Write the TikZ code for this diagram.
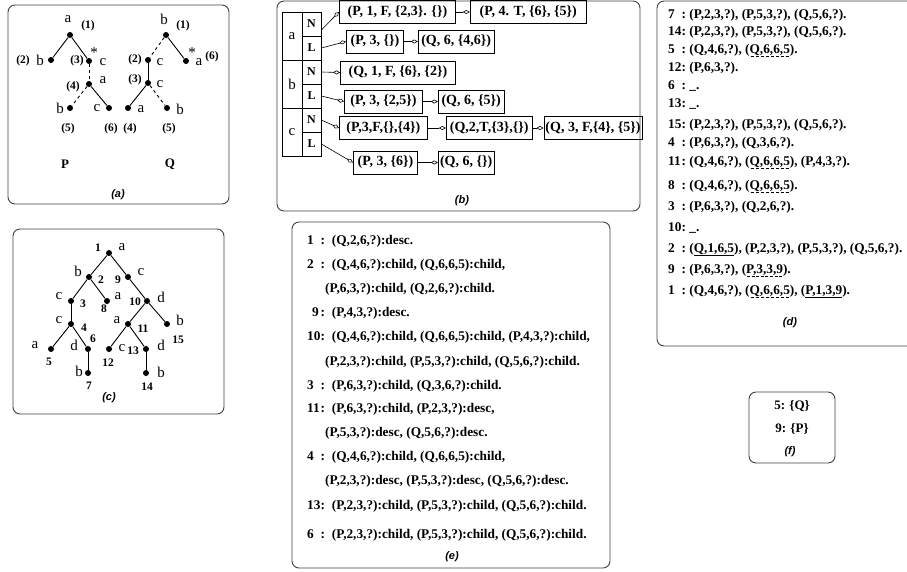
\documentclass[tikz,border=0pt]{standalone}
\usepackage{fontspec}
\setmainfont{Liberation Serif}
\setsansfont{Liberation Sans}
\usetikzlibrary{arrows.meta,positioning}

% number columns of the result lists: (d) narrow, (e) wide
\newcommand{\dn}[1]{\makebox[1em][l]{#1}:\hspace{3.5pt}}
\newcommand{\en}[1]{\makebox[1em][l]{#1}:\hspace{7pt}}
% solid and dashed underlines
\newcommand{\sul}[1]{{\setbox0\hbox{#1}\rlap{\smash{\raisebox{-3.5pt}{\rule{\wd0}{0.7pt}}}}\box0}}
\newcommand{\dul}[1]{{\setbox0\hbox{#1}\rlap{\smash{\raisebox{-3.5pt}{\hbox to\wd0{\xleaders\hbox to 4.6pt{\hss\vrule width 3pt height 0.7pt\hss}\hfill}}}}\box0}}

\begin{document}
\begin{tikzpicture}[
  x=1pt, y=-1pt,
  every node/.style={inner sep=1pt},
  panel/.style={draw=black!75, line width=0.9pt, rounded corners=7pt},
  dot/.style={circle, fill=black, inner sep=0pt, minimum size=6pt},
  link/.style={line width=0.9pt},
  hidden/.style={line width=0.9pt, dash pattern=on 3pt off 3pt},
  lbl/.style={font=\fontsize{15}{17}\selectfont},
  num/.style={font=\bfseries\fontsize{11.5}{13}\selectfont},
  row/.style={font=\bfseries\fontsize{13.3}{15}\selectfont, anchor=west, inner sep=0pt},
  subcap/.style={font=\sffamily\itshape\bfseries\fontsize{11}{13}\selectfont},
  key/.style={draw, line width=0.7pt, inner sep=0pt, minimum width=20pt, minimum height=48pt, font=\fontsize{15}{17}\selectfont},
  cell/.style={draw, line width=0.7pt, inner sep=0pt, minimum width=19pt, minimum height=24pt, font=\bfseries\fontsize{12}{14}\selectfont},
  rec/.style={draw, line width=0.8pt, inner sep=1pt, minimum height=23pt, font=\bfseries\fontsize{14}{16}\selectfont},
  ptr/.style={-{Diamond[open, length=7pt, width=4pt]}, line width=0.6pt}
]
\useasboundingbox (0,0) rectangle (907,571);
\clip (0,0) rectangle (907,571);

% ---------- (a) the two trees ----------
\draw[panel] (8,5) rectangle (229,204);
% tree P
\node[dot] (p1) at (70,35) {};
\node[dot] (p2) at (51,60) {};
\node[dot] (p3) at (89,61) {};
\node[dot] (p4) at (89,84) {};
\node[dot] (p5) at (70,108) {};
\node[dot] (p6) at (109,108) {};
\node[lbl] (pl1) at (68,19) {a};
\node[num] (pn1) at (88,26) {(1)};
\node[lbl] (pl2) at (40,60) {b};
\node[num] (pn2) at (23,61) {(2)};
\node[num] (pn3) at (77,61) {(3)};
\node[lbl] (ps3) at (94,53) {*};
\node[lbl] (pl3) at (103,62) {c};
\node[num] (pn4) at (73,87) {(4)};
\node[lbl] (pl4) at (103,80) {a};
\node[lbl] (pl5) at (60,108) {b};
\node[num] (pn5) at (68,129) {(5)};
\node[lbl] (pl6) at (97,108) {c};
\node[num] (pn6) at (111,129) {(6)};
\node[font=\bfseries\fontsize{13}{15}\selectfont] (pname) at (65,164) {P};
% tree Q
\node[dot] (q1) at (166,35) {};
\node[dot] (q2) at (148,60) {};
\node[dot] (q6) at (186,61) {};
\node[dot] (q3) at (148,83) {};
\node[dot] (q4) at (128,108) {};
\node[dot] (q5) at (167,108) {};
\node[lbl] (ql1) at (164,19) {b};
\node[num] (qn1) at (183,26) {(1)};
\node[num] (qn2) at (135,60) {(2)};
\node[lbl] (ql2) at (160,62) {c};
\node[lbl] (qs6) at (192,53) {*};
\node[lbl] (ql6) at (199,62) {a};
\node[num] (qn6) at (212,57) {(6)};
\node[num] (qn3) at (135,80) {(3)};
\node[lbl] (ql3) at (160,84) {c};
\node[lbl] (ql4) at (141,109) {a};
\node[num] (qn4) at (130,129) {(4)};
\node[lbl] (ql5) at (180,109) {b};
\node[num] (qn5) at (169,129) {(5)};
\node[font=\bfseries\fontsize{13}{15}\selectfont] (qname) at (170,164) {Q};
\node[subcap] (capa) at (118,195) {(a)};
% solid = child edge, dashed = descendant edge
\draw[link] (p1) -- (p2);
\draw[link] (p1) -- (p3);
\draw[hidden] (p3) -- (p4);
\draw[hidden] (p4) -- (p5);
\draw[link] (p4) -- (p6);
\draw[hidden] (q1) -- (q2);
\draw[link] (q1) -- (q6);
\draw[link] (q2) -- (q3);
\draw[link] (q3) -- (q4);
\draw[hidden] (q3) -- (q5);

% ---------- (b) label index ----------
\draw[panel] (277,1) rectangle (640,211);
\node[key] (ka) at (292,36) {a};
\node[key] (kb) at (292,84) {b};
\node[key] (kc) at (292,132) {c};
\node[cell] (aN) at (311.5,24) {N};
\node[cell] (aL) at (311.5,48) {L};
\node[cell] (bN) at (311.5,72) {N};
\node[cell] (bL) at (311.5,96) {L};
\node[cell] (cN) at (311.5,120) {N};
\node[cell] (cL) at (311.5,144) {L};
% records, one chain per cell
\node[rec, anchor=west, minimum width=116pt] (aN1) at (339,12) {(P, 1, F, \{2,3\}. \{\})};
\node[rec, right=14pt of aN1, minimum width=116pt] (aN2) {(P, 4. T, \{6\}, \{5\})};
\node[rec, anchor=west, minimum width=57pt] (aL1) at (346,41.5) {(P, 3, \{\})};
\node[rec, right=14pt of aL1, minimum width=76pt] (aL2) {(Q, 6, \{4,6\})};
\node[rec, anchor=west, minimum width=115pt] (bN1) at (340,72.5) {(Q, 1, F, \{6\}, \{2\})};
\node[rec, anchor=west, minimum width=78pt] (bL1) at (344,101.5) {(P, 3, \{2,5\})};
\node[rec, right=15pt of bL1, minimum width=66pt] (bL2) {(Q, 6, \{5\})};
\node[rec, anchor=west, minimum width=88pt] (cN1) at (339,128) {(P,3,F,\{\},\{4\})};
\node[rec, right=18pt of cN1, minimum width=86pt] (cN2) {(Q,2,T,\{3\},\{\})};
\node[rec, right=11pt of cN2, minimum width=98pt] (cN3) {(Q, 3, F,\{4\}, \{5\})};
\node[rec, anchor=west, minimum width=64pt] (cL1) at (353,162.5) {(P, 3, \{6\})};
\node[rec, right=20pt of cL1, minimum width=56pt] (cL2) {(Q, 6, \{\})};
\node[subcap] (capb) at (462,201) {(b)};
\draw[ptr] ([yshift=-6pt]aN.east) -- (aN1.west);
\draw[ptr] (aN1) -- (aN2);
\draw[ptr] (aL.east) -- (aL1.west);
\draw[ptr] (aL1) -- (aL2);
\draw[ptr] (bN.east) -- (bN1.west);
\draw[ptr] (bL.east) -- (bL1.west);
\draw[ptr] (bL1) -- (bL2);
\draw[ptr] (cN.east) -- (cN1.west);
\draw[ptr] (cN1) -- (cN2);
\draw[ptr] (cN2) -- (cN3);
\draw[ptr] (cL.east) -- (cL1.west);
\draw[ptr] (cL1) -- (cL2);

% ---------- (c) numbered data tree ----------
\draw[panel] (13,229) rectangle (224,414);
\node[dot] (c1) at (109,253) {};
\node[dot] (c2) at (89,277) {};
\node[dot] (c9) at (128,277) {};
\node[dot] (c3) at (71,301) {};
\node[dot] (c8) at (107,301) {};
\node[dot] (c10) at (147,301) {};
\node[dot] (c4) at (71,324) {};
\node[dot] (c11) at (128,324) {};
\node[dot] (c15) at (167,324) {};
\node[dot] (c5) at (51,349) {};
\node[dot] (c6) at (88,349) {};
\node[dot] (c12) at (109,349) {};
\node[dot] (c13) at (146,349) {};
\node[dot] (c7) at (88,373) {};
\node[dot] (c14) at (146,373) {};
\node[num] (cn1) at (98,248) {1};
\node[lbl] (cl1) at (122,247) {a};
\node[lbl] (cl2) at (78,271) {b};
\node[num] (cn2) at (101,280) {2};
\node[num] (cn9) at (118,280) {9};
\node[lbl] (cl9) at (141,272) {c};
\node[lbl] (cl3) at (59,296) {c};
\node[num] (cn3) at (83,304) {3};
\node[num] (cn8) at (104,309) {8};
\node[lbl] (cl8) at (118,296) {a};
\node[num] (cn10) at (135,302) {10};
\node[lbl] (cl10) at (161,297) {d};
\node[lbl] (cl4) at (59,320) {c};
\node[num] (cn4) at (84,328) {4};
\node[lbl] (cl11) at (117,320) {a};
\node[num] (cn11) at (143,329) {11};
\node[lbl] (cl15) at (180,320) {b};
\node[num] (cn15) at (178,340) {15};
\node[lbl] (cl5) at (35,345) {a};
\node[num] (cn5) at (49,362) {5};
\node[lbl] (cl6) at (74,345) {d};
\node[num] (cn6) at (93,339) {6};
\node[num] (cn12) at (108,363) {12};
\node[lbl] (cl12) at (122,348) {c};
\node[num] (cn13) at (133,351) {13};
\node[lbl] (cl13) at (161,345) {d};
\node[lbl] (cl7) at (79,371) {b};
\node[num] (cn7) at (89,386) {7};
\node[lbl] (cl14) at (161,372) {b};
\node[num] (cn14) at (147,387) {14};
\node[subcap] (capc) at (109,398) {(c)};
\draw[link] (c1) -- (c2);
\draw[link] (c1) -- (c9);
\draw[link] (c2) -- (c3);
\draw[link] (c2) -- (c8);
\draw[link] (c9) -- (c10);
\draw[link] (c3) -- (c4);
\draw[link] (c10) -- (c11);
\draw[link] (c10) -- (c15);
\draw[link] (c4) -- (c5);
\draw[link] (c4) -- (c6);
\draw[link] (c11) -- (c12);
\draw[link] (c11) -- (c13);
\draw[link] (c6) -- (c7);
\draw[link] (c13) -- (c14);

% ---------- (d) matches per node ----------
\draw[panel] (657,1) rectangle (930,346);
\node[row] (d7) at (668,15) {\dn{7}(P,2,3,?), (P,5,3,?), (Q,5,6,?).};
\node[row] (d14) at (668,32) {\dn{14}(P,2,3,?), (P,5,3,?), (Q,5,6,?).};
\node[row] (d5) at (668,50) {\dn{5}(Q,4,6,?), (\dul{Q,6,6,5}).};
\node[row] (d12) at (668,68) {\dn{12}(P,6,3,?).};
\node[row] (d6) at (668,86) {\dn{6}\_.};
\node[row] (d13) at (668,104) {\dn{13}\_.};
\node[row] (d15) at (668,125) {\dn{15}(P,2,3,?), (P,5,3,?), (Q,5,6,?).};
\node[row] (d4) at (668,143) {\dn{4}(P,6,3,?), (Q,3,6,?).};
\node[row] (d11) at (668,162) {\dn{11}(Q,4,6,?), (\dul{Q,6,6,5}), (P,4,3,?).};
\node[row] (d8) at (668,186) {\dn{8}(Q,4,6,?), (\dul{Q,6,6,5}).};
\node[row] (d3) at (668,207) {\dn{3}(P,6,3,?), (Q,2,6,?).};
\node[row] (d10) at (668,228) {\dn{10}\_.};
\node[row] (d2) at (668,249) {\dn{2}(\sul{Q,1,6,5}), (P,2,3,?), (P,5,3,?), (Q,5,6,?).};
\node[row] (d9) at (668,270) {\dn{9}(P,6,3,?), (\dul{P,3,3,9}).};
\node[row] (d1) at (668,291) {\dn{1}(Q,4,6,?), (\dul{Q,6,6,5}), (\sul{P,1,3,9}).};
\node[subcap] (capd) at (790,323) {(d)};

% ---------- (e) edge lists ----------
\draw[panel] (292,222) rectangle (610,568);
\node[row] (e1) at (307,241) {\en{1}(Q,2,6,?):desc.};
\node[row] (e2) at (307,265) {\en{2}(Q,4,6,?):child, (Q,6,6,5):child,};
\node[row] (e2b) at (325,289) {(P,6,3,?):child, (Q,2,6,?):child.};
\node[row] (e9) at (307,313) {\en{\hspace{5pt}9}(P,4,3,?):desc.};
\node[row] (e10) at (307,337) {\en{10}(Q,4,6,?):child, (Q,6,6,5):child, (P,4,3,?):child,};
\node[row] (e10b) at (325,362) {(P,2,3,?):child, (P,5,3,?):child, (Q,5,6,?):child.};
\node[row] (e3) at (307,386) {\en{3}(P,6,3,?):child, (Q,3,6,?):child.};
\node[row] (e11) at (307,409) {\en{11}(P,6,3,?):child, (P,2,3,?):desc,};
\node[row] (e11b) at (325,433) {(P,5,3,?):desc, (Q,5,6,?):desc.};
\node[row] (e4) at (307,457) {\en{4}(Q,4,6,?):child, (Q,6,6,5):child,};
\node[row] (e4b) at (325,481) {(P,2,3,?):desc, (P,5,3,?):desc, (Q,5,6,?):desc.};
\node[row] (e13) at (307,506) {\en{13}(P,2,3,?):child, (P,5,3,?):child, (Q,5,6,?):child.};
\node[row] (e6) at (307,535) {\en{6}(P,2,3,?):child, (P,5,3,?):child, (Q,5,6,?):child.};
\node[subcap] (cape) at (452,557) {(e)};

% ---------- (f) ----------
\draw[panel] (749,392) rectangle (835,463);
\node[font=\bfseries\fontsize{13}{15}\selectfont] (f5) at (792,406) {5: \{Q\}};
\node[font=\bfseries\fontsize{13}{15}\selectfont] (f9) at (792,429) {9: \{P\}};
\node[subcap] (capf) at (790,452) {(f)};
\end{tikzpicture}
\end{document}
